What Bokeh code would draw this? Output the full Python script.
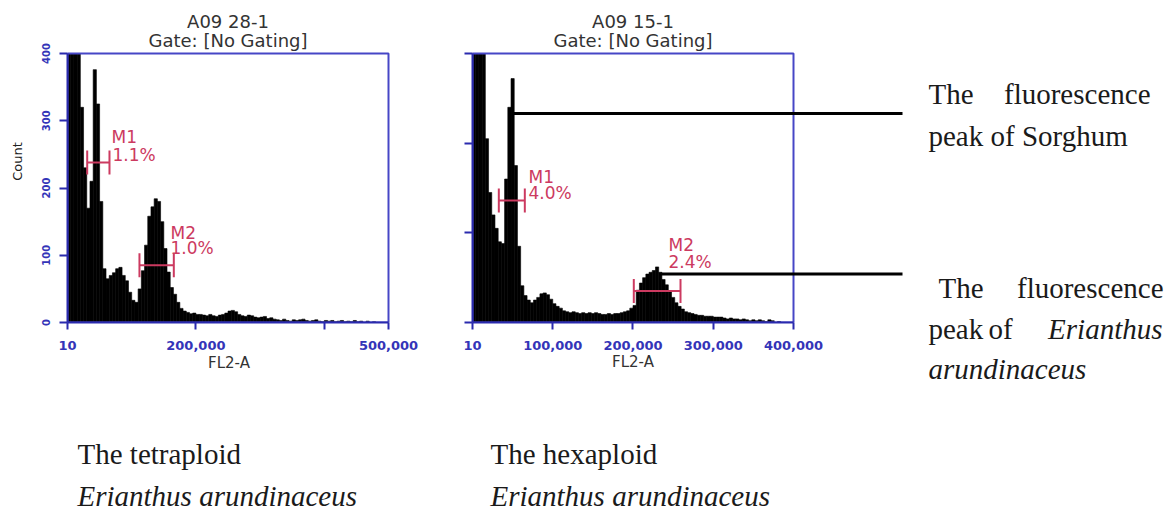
import numpy as np
from bokeh.plotting import figure
from bokeh.models import Range1d, FixedTicker, NumeralTickFormatter, LinearAxis
from bokeh.layouts import row, column
from bokeh.embed import file_html
from bokeh.resources import INLINE
from bokeh.core.properties import value

# ---------------- data ----------------
titles_28 = ["A09 28-1", "Gate: [No Gating]"]
titles_15 = ["A09 15-1", "Gate: [No Gating]"]
x_label = "FL2-A"
y_label = "Count"

# tetraploid sample A09 28-1 : bins of 5,000 FL2-A units starting at 10
bin_width_28 = 5000
counts_28 = [520, 480, 440, 410, 320, 230, 170, 210, 376, 325,
             180, 80, 65, 70, 74, 80, 82, 70, 62, 45,
             33, 30, 50, 77, 115, 158, 172, 184, 180, 150,
             110, 75, 52, 42, 30, 21, 17, 15, 13, 14,
             12, 12, 11, 10, 12, 10, 9, 11, 12, 14,
             17, 18, 16, 12, 10, 9, 11, 10, 8, 7,
             8, 9, 6, 7, 5, 4, 3, 5, 3, 2,
             4, 3, 4, 5, 3, 2, 3, 4, 2, 1,
             3, 2, 3, 1, 2, 3, 1, 2, 1, 3,
             1, 2, 0, 2, 0, 1, 0, 0, 0, 0]

# hexaploid sample A09 15-1 : bins of 4,000 FL2-A units starting at 10
bin_width_15 = 4000
counts_15 = [450, 420, 380, 310, 205, 145, 120, 105, 90, 88,
             160, 240, 272, 175, 85, 41, 30, 25, 22, 25,
             28, 32, 33, 31, 26, 21, 18, 16, 13, 12,
             11, 12, 11, 10, 11, 10, 11, 10, 11, 10,
             9, 9, 10, 9, 10, 10, 11, 12, 13, 16,
             19, 36, 44, 50, 54, 56, 58, 62, 56, 48,
             42, 34, 28, 22, 18, 15, 12, 11, 10, 9,
             8, 8, 7, 7, 7, 6, 6, 6, 5, 4,
             5, 4, 4, 3, 4, 3, 2, 3, 2, 3,
             2, 1, 3, 2, 0, 1, 0, 0, 0, 0]

x_max_28, y_max_28 = 500000, 400
x_max_15, y_max_15 = 400000, 300
x_ticks_28 = [10, 200000, 400000, 500000]
x_unlabeled_28 = [400000]
x_ticks_15 = [10, 100000, 200000, 300000, 400000]
y_ticks_28 = [0, 100, 200, 300, 400]
y_ticks_15 = [0, 100, 200, 300]

marker_names = ["M1", "M2"]
marker_pct_28 = ["1.1%", "1.0%"]
marker_from_28 = [30700, 112100]
marker_to_28 = [65400, 165600]
marker_level_28 = [238, 85]
marker_pct_15 = ["4.0%", "2.4%"]
marker_from_15 = [32800, 201000]
marker_to_15 = [65200, 259200]
marker_level_15 = [136, 35]

# pointer lines in the hexaploid panel (Sorghum peak, Erianthus peak)
pointer_start_x = [51100, 234200]
pointer_level = [233, 54]

note_sorghum = ["The", "fluorescence", "peak of Sorghum"]
note_erianthus = ["The", "fluorescence", "peak", "of", "Erianthus", "arundinaceus"]
caption_left = ["The tetraploid", "Erianthus arundinaceus"]
caption_right = ["The hexaploid", "Erianthus arundinaceus"]

# ---------------- layout / style (page pixels) ----------------
PAGE_W, PAGE_H = 1167, 515
ROW_H = 400
FRAME_TOP = 53
FRAME_BOTTOM = 322
CAP = 12
SHIFT = 0.33      # baseline correction, fraction of font size

BLUE = "#4646c6"
AXIS_BLUE = "#2a2aae"
LABEL_BLUE = "#3434b8"
RED = "#cc3a60"
TXT = "#1a1a1a"
SANS_NAME = "DejaVu Sans"
SANS = value(SANS_NAME)
SERIF = value("Liberation Serif")


def style_axis_labels(ax, size="13px"):
    ax.major_label_text_font = SANS_NAME
    ax.major_label_text_font_size = size
    ax.major_label_text_font_style = "bold"
    ax.major_label_text_color = LABEL_BLUE


def hist_figure(titles, counts, bw, xmax, ymax, canvas_left, canvas_right, frame_left,
                frame_right, xmax_px, x_ticks, unlabeled, y_ticks, y_labels,
                m_from, m_to, m_level, m_pct, label_px, own_axis_label):
    sx = (xmax - 10) / (xmax_px - frame_left)
    sy = ymax / (FRAME_BOTTOM - FRAME_TOP)

    def fx(px):
        return 10 + (px - frame_left) * sx

    def fy(py):
        return (FRAME_BOTTOM - py) * sy

    p = figure(width=canvas_right - canvas_left, height=ROW_H,
               x_range=Range1d(10, fx(frame_right)), y_range=Range1d(0, fy(0)),
               min_border_left=frame_left - canvas_left,
               min_border_right=canvas_right - frame_right,
               min_border_top=0, min_border_bottom=ROW_H - FRAME_BOTTOM,
               toolbar_location=None, output_backend="svg", frame_align=False)
    p.grid.visible = False
    p.outline_line_color = None
    p.background_fill_color = "white"
    p.border_fill_color = "white"

    xa = p.xaxis[0]
    xa.ticker = FixedTicker(ticks=x_ticks, minor_ticks=[])
    xa.formatter = NumeralTickFormatter(format="0,0")
    if unlabeled:
        xa.major_label_overrides = {t: "" for t in unlabeled}
    xa.bounds = (10, xmax)
    style_axis_labels(xa)
    xa.major_label_standoff = 11
    xa.major_tick_out = 7
    xa.major_tick_in = 0
    xa.minor_tick_out = 0
    xa.axis_line_color = AXIS_BLUE
    xa.axis_line_width = 2
    xa.major_tick_line_color = AXIS_BLUE
    xa.major_tick_line_width = 2
    if own_axis_label:
        xa.axis_label = x_label
        xa.axis_label_text_font = SANS_NAME
        xa.axis_label_text_font_size = "15px"
        xa.axis_label_text_font_style = "normal"
        xa.axis_label_text_color = "#333333"
        xa.axis_label_standoff = 1
    else:
        # axis title placed under the middle of the plotting box (frame is wider)
        mid = (10 + xmax) / 2
        la = LinearAxis(ticker=FixedTicker(ticks=[mid], minor_ticks=[]),
                        major_label_overrides={mid: x_label},
                        axis_line_color=None, major_tick_line_color=None,
                        minor_tick_line_color=None, major_tick_out=0, major_tick_in=0,
                        major_label_standoff=0,
                        major_label_text_font=SANS_NAME,
                        major_label_text_font_size="15px",
                        major_label_text_color="#333333")
        p.add_layout(la, "below")

    ya = p.yaxis[0]
    ya.ticker = FixedTicker(ticks=y_ticks, minor_ticks=[])
    ya.bounds = (0, ymax)
    ya.major_tick_out = 8
    ya.major_tick_in = 0
    ya.minor_tick_out = 0
    ya.axis_line_color = AXIS_BLUE
    ya.axis_line_width = 2
    ya.major_tick_line_color = AXIS_BLUE
    ya.major_tick_line_width = 2
    if y_labels:
        ya.major_label_orientation = "vertical"
        style_axis_labels(ya, "10px")
        ya.major_label_standoff = 10
        ya.axis_label = y_label
        ya.axis_label_text_font = SANS_NAME
        ya.axis_label_text_font_size = "13px"
        ya.axis_label_text_font_style = "normal"
        ya.axis_label_text_color = "#222222"
        ya.axis_label_standoff = 14
    else:
        ya.major_label_overrides = {t: "" for t in y_ticks}

    # histogram (clipped at the top of the plotting box like the cytometer software)
    edges = 10 + bw * np.arange(len(counts) + 1)
    top = np.minimum(np.array(counts, dtype=float), ymax)
    p.quad(left=edges[:-1], right=edges[1:], bottom=0, top=top,
           fill_color="black", line_color="black", line_width=0.6)

    # plotting box
    p.quad(left=[10], right=[xmax], bottom=[0], top=[ymax], fill_color=None,
           line_color=BLUE, line_width=2)

    # titles
    cx = fx((frame_left + xmax_px) / 2)
    fs = 18
    p.text(x=[cx, cx], y=[fy(27 - SHIFT * fs), fy(46 - SHIFT * fs)], text=titles,
           text_align="center", text_baseline="alphabetic", text_font=SANS,
           text_font_size=f"{fs}px", text_color="#333333")

    # marker bars M1 / M2
    h = CAP * sy
    fs = 17
    for i in range(len(m_from)):
        p.segment(x0=[m_from[i]], y0=[m_level[i]], x1=[m_to[i]], y1=[m_level[i]],
                  line_color=RED, line_width=2)
        p.segment(x0=[m_from[i], m_to[i]], y0=[m_level[i] - h] * 2,
                  x1=[m_from[i], m_to[i]], y1=[m_level[i] + h] * 2,
                  line_color=RED, line_width=2)
        (nx, ny), (qx, qy) = label_px[i]
        p.text(x=[fx(nx), fx(qx)], y=[fy(ny - SHIFT * fs), fy(qy - SHIFT * fs)],
               text=[marker_names[i], m_pct[i]],
               text_align="left", text_baseline="alphabetic", text_font=SANS,
               text_font_size=f"{fs}px", text_color=RED)
    return p, fx, fy


def text_figure(x0, x1, y0, y1):
    t = figure(width=x1 - x0, height=y1 - y0, x_range=Range1d(x0, x1),
               y_range=Range1d(y1, y0), min_border=0, toolbar_location=None,
               output_backend="svg", x_axis_location=None, y_axis_location=None,
               frame_align=False)
    t.grid.visible = False
    t.outline_line_color = None
    return t


def serif(t, xs, ys, texts, align="left", italic=False, fs=29):
    t.text(x=xs, y=[y - SHIFT * fs for y in ys], text=texts, text_align=align,
           text_baseline="alphabetic", text_font=SERIF, text_font_size=f"{fs}px",
           text_font_style="italic" if italic else "normal", text_color=TXT)


p28, fx28, fy28 = hist_figure(titles_28, counts_28, bin_width_28, x_max_28, y_max_28,
                              0, 430, 67, 390, 388, x_ticks_28, x_unlabeled_28,
                              y_ticks_28, True,
                              marker_from_28, marker_to_28, marker_level_28, marker_pct_28,
                              [((111, 142), (112, 160)), ((170, 238), (170, 253))], True)

NOTE_X = 915
p15, fx15, fy15 = hist_figure(titles_15, counts_15, bin_width_15, x_max_15, y_max_15,
                              430, NOTE_X, 472, NOTE_X, 793, x_ticks_15, [], y_ticks_15, False,
                              marker_from_15, marker_to_15, marker_level_15, marker_pct_15,
                              [((528, 182), (528, 198)), ((668, 250), (668, 267))], False)

# pointer lines to the notes
p15.segment(x0=pointer_start_x, y0=pointer_level, x1=[fx15(902)] * 2, y1=pointer_level,
            line_color="black", line_width=3)

# notes on the right (page-pixel coordinates)
notes = text_figure(NOTE_X, PAGE_W, 0, ROW_H)
serif(notes, [928, 928, 938, 928, 988], [103, 145, 297, 338, 338],
      [note_sorghum[0], note_sorghum[2], note_erianthus[0], note_erianthus[2],
       note_erianthus[3]])
serif(notes, [1150, 1163], [103, 297], [note_sorghum[1], note_erianthus[1]], align="right")
serif(notes, [1162], [338], [note_erianthus[4]], align="right", italic=True)
serif(notes, [928], [378], [note_erianthus[5]], italic=True)

# captions under the panels
cap = text_figure(0, PAGE_W, ROW_H, PAGE_H)
serif(cap, [77, 490], [463, 463], [caption_left[0], caption_right[0]])
serif(cap, [77, 490], [505, 505], [caption_left[1], caption_right[1]], italic=True)

layout = column(row(p28, p15, notes), cap)

with open("out.html", "w") as f:
    f.write(file_html(layout, INLINE))
